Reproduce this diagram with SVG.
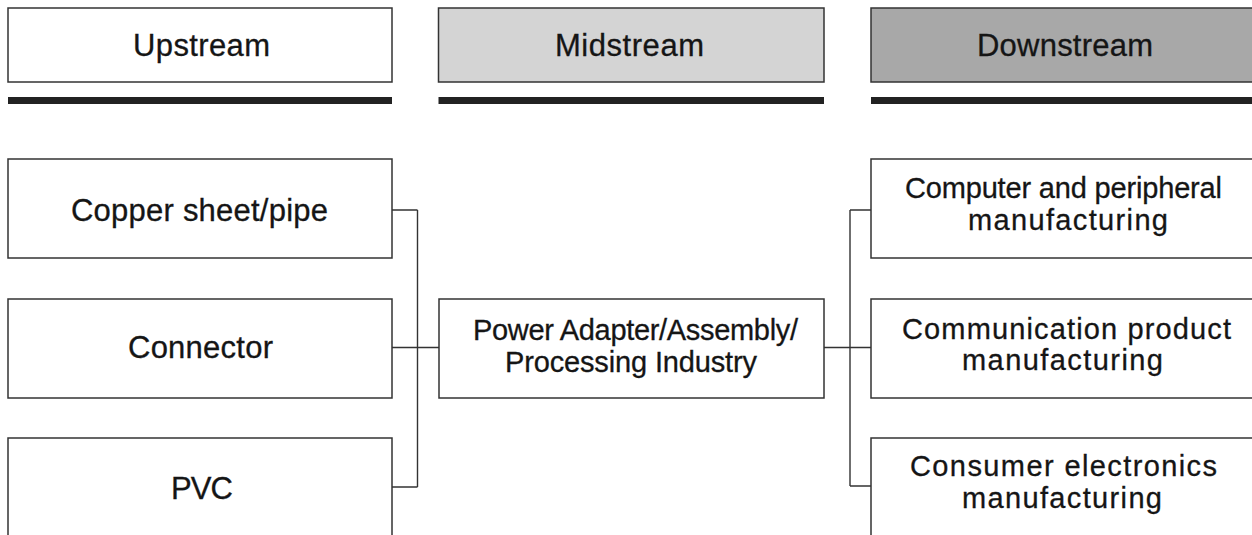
<svg xmlns="http://www.w3.org/2000/svg" width="1252" height="535" viewBox="0 0 1252 535">
<style>
.box{stroke:#333;stroke-width:1.5;fill:#fff}
.bar{fill:#222}
.t{font-family:"Liberation Sans",Arial,sans-serif;fill:#151515;stroke:#151515;stroke-width:0.3;text-anchor:middle}
.h{font-size:31px}
.b{font-size:31px}
.s{font-size:29px}
.conn{stroke:#333;stroke-width:1.4;fill:none}
</style>
<rect x="0" y="0" width="1252" height="535" fill="#fff"/>
<g id="hdr-up">
<rect class="box" x="8" y="8" width="384" height="74"/>
<rect class="bar" x="8" y="97" width="384" height="7"/>
<text class="t h" x="201.5" y="55.5" textLength="137" lengthAdjust="spacing">Upstream</text>
</g>
<g id="hdr-mid">
<rect class="box" x="438.5" y="8" width="385.5" height="74" style="fill:#d4d4d4"/>
<rect class="bar" x="438.5" y="97" width="385.5" height="7"/>
<text class="t h" x="629.5" y="56" textLength="149" lengthAdjust="spacing">Midstream</text>
</g>
<g id="hdr-down">
<rect class="box" x="871" y="8" width="400" height="74" style="fill:#a8a8a8"/>
<rect class="bar" x="871" y="97" width="400" height="7"/>
<text class="t h" x="1065" y="56" textLength="176" lengthAdjust="spacing">Downstream</text>
</g>
<g id="copper">
<rect class="box" x="8" y="159" width="384" height="99"/>
<text class="t b" x="199.5" y="221" textLength="257" lengthAdjust="spacing">Copper sheet/pipe</text>
</g>
<g id="connector">
<rect class="box" x="8" y="299" width="384" height="99"/>
<text class="t b" x="200.5" y="358" textLength="145" lengthAdjust="spacing">Connector</text>
</g>
<g id="pvc">
<rect class="box" x="8" y="438" width="384" height="110"/>
<text class="t b" x="202" y="499" textLength="62" lengthAdjust="spacing">PVC</text>
</g>
<g id="power">
<rect class="box" x="439" y="299" width="385" height="99"/>
<text class="t s" x="635.5" y="340" textLength="325" lengthAdjust="spacing">Power Adapter/Assembly/</text>
<text class="t s" x="631" y="372" textLength="252" lengthAdjust="spacing">Processing Industry</text>
</g>
<g id="computer">
<rect class="box" x="871" y="159" width="400" height="99"/>
<text class="t s" x="1063.5" y="198" textLength="317" lengthAdjust="spacing">Computer and peripheral</text>
<text class="t s" x="1068" y="230" textLength="200" lengthAdjust="spacing">manufacturing</text>
</g>
<g id="communication">
<rect class="box" x="871" y="299" width="400" height="99"/>
<text class="t s" x="1066.5" y="339" textLength="329" lengthAdjust="spacing">Communication product</text>
<text class="t s" x="1062.5" y="370" textLength="201" lengthAdjust="spacing">manufacturing</text>
</g>
<g id="consumer">
<rect class="box" x="871" y="438" width="400" height="110"/>
<text class="t s" x="1063.5" y="476" textLength="307" lengthAdjust="spacing">Consumer electronics</text>
<text class="t s" x="1062" y="508" textLength="200" lengthAdjust="spacing">manufacturing</text>
</g>
<g id="connectors">
<path class="conn" d="M392 210H417.5M392 347.5H439M392 487H417.5M417.5 210V487"/>
<path class="conn" d="M824 347.5H871M850 210H871M850 486H871M850 210V486"/>
</g>
</svg>
